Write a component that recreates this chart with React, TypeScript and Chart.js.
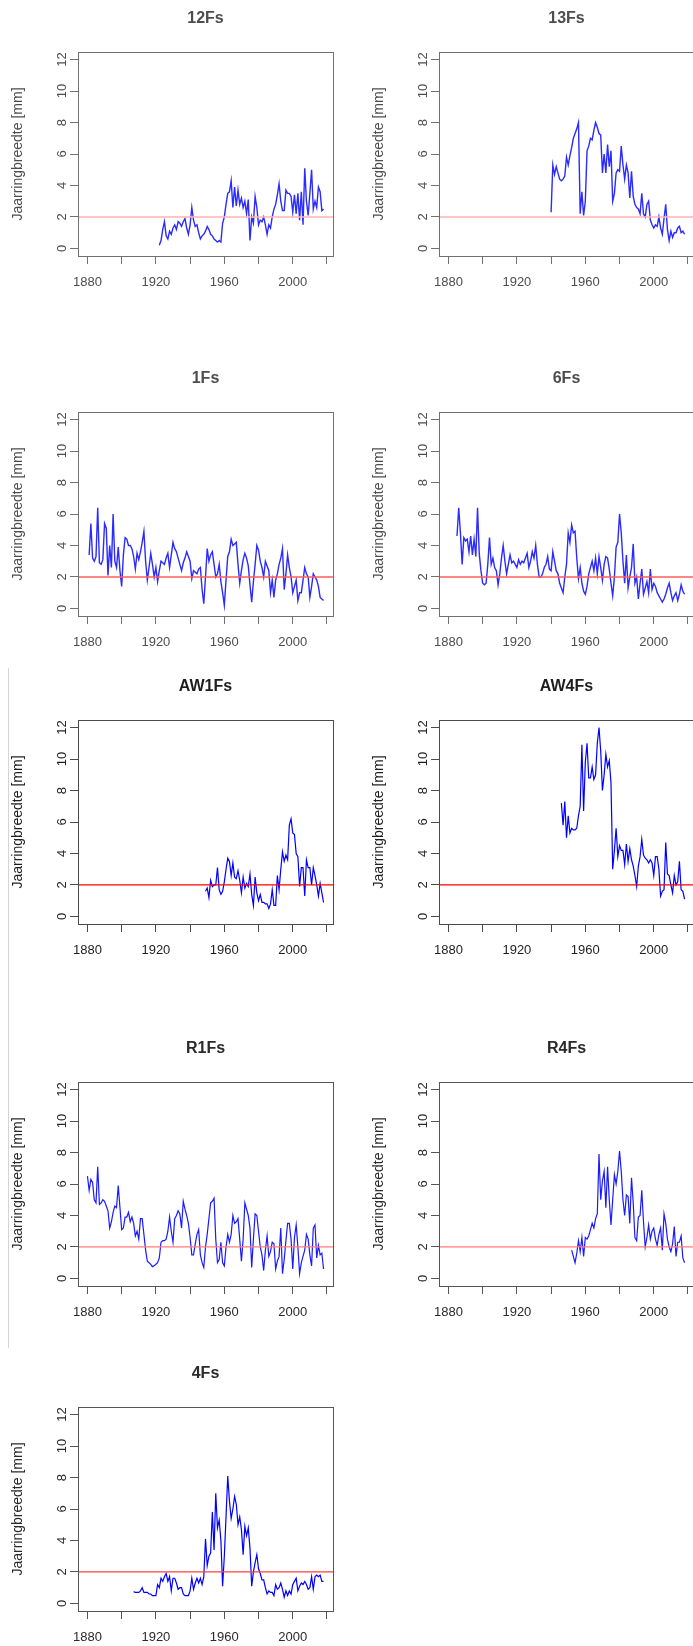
import { useEffect, useRef } from "react";
import { Chart, registerables } from "chart.js";

Chart.register(...registerables);

// ---- shared axis setup ----
const FONT = '"Liberation Sans", Arial, Helvetica, sans-serif';
const xTickYears = [1880, 1900, 1920, 1940, 1960, 1980, 2000, 2020];
const xLabelYears = [1880, 1920, 1960, 2000];
const yTickValues = [0, 2, 4, 6, 8, 10, 12];
const X_MIN = 1874.48;
const X_MAX = 2023.52;
const Y_MIN = -0.48;
const Y_MAX = 12.48;
const THRESHOLD_MM = 2;
const Y_TITLE = "Jaarringbreedte [mm]";

// ---- ring widths per tree (mm), one value per year from the start year ----
const start12Fs = 1922;
const rings12Fs = [
  0.2, 0.5, 1.2, 1.7, 0.8, 0.6, 1.1, 0.9, 1.3, 1.5, 1.2, 1.7, 1.6, 1.4, 1.7, 1.9, 1.3, 0.9, 1.5, 2.6,
  1.8, 1.4, 1.5, 1.0, 0.6, 0.8, 0.9, 1.1, 1.4, 1.2, 0.9, 0.8, 0.6, 0.5, 0.4, 0.5, 0.4, 1.6, 2.0, 2.8,
  3.5, 3.6, 4.3, 2.6, 3.9, 2.7, 3.7, 2.8, 3.2, 2.6, 3.0, 2.2, 3.1, 0.5, 2.0, 1.6, 3.3, 2.6, 1.5, 1.8,
  1.7, 2.0, 1.5, 0.9, 1.5, 1.3, 2.0, 2.5, 2.8, 3.4, 4.1, 3.0, 2.4, 2.4, 3.7, 3.5, 3.5, 3.3, 2.3, 3.4,
  2.2, 3.5, 1.8, 3.6, 1.5, 5.1, 3.0, 2.1, 3.5, 5.0, 2.5, 3.0, 2.6, 3.9, 3.6, 2.4, 2.5,
];

const start13Fs = 1940;
const rings13Fs = [
  2.3, 5.3, 4.7, 5.2, 4.8, 4.4, 4.3, 4.4, 4.6, 5.8, 5.3, 5.9, 6.4, 7.0, 7.3, 7.6, 8.0, 2.2, 3.6, 2.1,
  3.0, 6.2, 6.5, 7.0, 6.9, 7.5, 8.0, 7.7, 7.3, 7.2, 4.8, 6.0, 4.8, 6.6, 5.2, 6.2, 3.0, 3.5, 4.8, 5.0,
  4.9, 6.5, 5.3, 4.4, 5.3, 4.8, 3.2, 4.9, 3.3, 2.8, 2.6, 2.5, 2.2, 3.5, 2.2, 2.0, 2.8, 3.0, 1.8, 1.5,
  1.3, 1.5, 1.4, 2.0, 1.3, 0.9, 1.9, 2.8, 1.2, 0.5, 1.1, 0.7, 1.0, 1.0, 1.3, 1.4, 1.0, 1.1, 0.9,
];

const start1Fs = 1881;
const rings1Fs = [
  3.4, 5.4, 3.2, 3.0, 3.3, 6.4, 2.9, 2.8, 3.1, 5.4, 5.1, 2.1, 4.0, 2.6, 6.0, 3.0, 2.6, 3.9, 2.4, 1.4,
  3.4, 4.5, 4.4, 4.0, 4.0, 3.8, 3.3, 2.5, 3.5, 3.1, 3.6, 4.2, 4.9, 3.0, 1.8, 2.6, 3.5, 2.8, 2.0, 2.6,
  1.7, 2.4, 3.0, 2.9, 2.8, 3.2, 3.5, 2.6, 3.4, 4.2, 3.8, 3.6, 3.2, 2.8, 2.4, 2.9, 3.2, 3.6, 3.3, 3.0,
  1.9, 2.4, 2.3, 2.2, 2.5, 2.6, 1.2, 0.3, 2.0, 3.8, 3.0, 3.4, 3.6, 2.8, 2.0, 2.2, 2.8, 1.7, 1.0, 0.2,
  1.8, 3.3, 3.6, 4.4, 4.0, 4.1, 4.2, 2.8, 1.6, 2.4, 3.1, 3.5, 3.2, 2.7, 1.5, 0.4, 1.7, 2.8, 4.0, 3.7,
  3.0, 2.6, 2.0, 3.0, 2.7, 2.4, 1.0, 1.8, 0.7, 1.8, 2.2, 2.8, 3.2, 3.8, 1.2, 2.2, 3.4, 2.6, 2.0, 1.0,
  1.4, 1.8, 0.5, 1.0, 1.0, 1.8, 2.6, 2.2, 2.0, 0.7, 1.4, 2.2, 2.0, 1.8, 1.4, 0.7, 0.6, 0.5,
];

const start6Fs = 1885;
const rings6Fs = [
  4.6, 6.4, 4.8, 2.8, 4.5, 4.3, 4.4, 3.6, 4.6, 3.4, 4.4, 3.3, 6.4, 3.5, 2.4, 1.6, 1.5, 1.6, 2.8, 4.5,
  2.8, 3.2, 2.6, 2.4, 1.5, 2.2, 3.2, 4.0, 3.0, 2.2, 2.8, 3.4, 2.9, 3.0, 2.8, 2.6, 3.1, 2.8, 3.0, 2.9,
  3.2, 3.5, 2.6, 3.0, 3.6, 3.2, 4.0, 2.8, 2.0, 2.0, 2.2, 2.6, 2.8, 3.3, 2.5, 2.4, 3.6, 3.0, 2.4, 2.2,
  1.6, 1.3, 1.0, 2.0, 2.8, 4.8, 4.2, 5.3, 4.8, 4.9, 3.2, 1.9, 2.6, 1.6, 1.1, 0.9, 1.4, 2.2, 2.6, 3.0,
  2.4, 3.2, 2.2, 3.3, 2.6, 1.8, 2.8, 3.3, 3.2, 2.5, 1.6, 0.8, 2.0, 3.9, 4.2, 6.0, 4.8, 3.0, 1.6, 3.4,
  1.3, 2.0, 2.6, 4.1, 1.6, 2.0, 0.6, 1.6, 2.5, 0.9, 1.3, 1.7, 1.0, 2.5, 1.2, 1.6, 1.4, 1.0, 0.8, 0.6,
  0.4, 0.6, 0.9, 1.3, 1.6, 1.0, 0.5, 0.8, 1.0, 0.5, 0.9, 1.5, 1.1, 0.9,
];

const startAW1Fs = 1949;
const ringsAW1Fs = [
  1.6, 1.8, 1.2, 2.3, 1.9, 2.0, 2.0, 3.1, 1.7, 1.4, 1.6, 2.2, 3.0, 3.7, 3.5, 2.6, 3.4, 2.5, 2.4, 2.9,
  2.3, 1.5, 2.5, 1.8, 2.1, 1.9, 2.7, 1.4, 0.7, 2.5, 1.5, 1.0, 1.4, 0.9, 0.9, 0.8, 0.8, 0.5, 0.8, 1.7,
  0.7, 0.7, 2.6, 1.7, 3.0, 4.1, 3.5, 3.9, 3.6, 5.8, 6.2, 5.3, 5.2, 4.0, 3.8, 1.9, 3.1, 3.1, 1.3, 3.6,
  3.1, 3.1, 2.0, 3.1, 2.6, 2.0, 1.3, 2.1, 1.5, 0.9,
];

const startAW4Fs = 1946;
const ringsAW4Fs = [
  7.2, 5.8, 7.3, 5.0, 6.4, 5.3, 5.6, 5.5, 5.5, 5.6, 6.4, 7.0, 10.9, 6.7, 9.8, 11.0, 8.8, 8.8, 9.5, 8.7,
  9.0, 11.0, 12.0, 10.5, 8.0, 9.0, 10.3, 9.5, 9.9, 8.5, 3.0, 4.2, 5.6, 3.8, 4.5, 4.2, 4.2, 3.3, 4.6, 3.5,
  4.3, 3.6, 3.2, 2.6, 1.9, 3.2, 3.8, 4.9, 3.9, 3.7, 3.6, 3.4, 3.6, 3.4, 2.6, 3.8, 3.8, 3.0, 1.3, 1.6,
  1.7, 4.7, 2.7, 2.6, 2.0, 1.5, 2.6, 2.0, 2.2, 3.5, 1.7, 1.6, 1.1,
];

const startR1Fs = 1880;
const ringsR1Fs = [
  6.5, 5.6, 6.3, 6.1, 5.0, 4.8, 7.1, 4.7, 4.8, 5.0, 4.9, 4.6, 4.3, 3.2, 3.6, 4.2, 4.6, 4.5, 5.9, 4.5,
  3.1, 3.2, 3.9, 3.9, 4.2, 3.6, 3.9, 3.5, 2.7, 3.0, 2.5, 3.8, 3.8, 2.8, 1.8, 1.1, 1.0, 0.9, 0.75, 0.8,
  0.9, 1.0, 1.3, 2.3, 2.4, 2.4, 2.5, 3.0, 3.9, 3.0, 2.3, 3.8, 4.0, 4.3, 4.1, 3.2, 4.9, 4.4, 4.0, 3.5,
  2.6, 1.5, 1.5, 2.2, 2.8, 3.1, 1.5, 1.0, 0.7, 2.0, 2.8, 3.8, 4.8, 4.9, 5.1, 2.5, 1.0, 1.2, 2.3, 1.0,
  0.8, 2.0, 2.8, 2.3, 2.8, 4.0, 3.5, 3.6, 3.8, 2.5, 1.1, 2.5, 4.8, 4.4, 4.0, 3.2, 0.7, 2.5, 4.1, 4.0,
  3.0, 2.0, 1.5, 0.5, 1.8, 2.7, 1.4, 1.7, 2.3, 2.2, 0.6, 1.1, 1.4, 3.2, 0.3, 1.2, 2.4, 3.5, 3.5, 2.5,
  0.6, 2.6, 3.4, 2.0, 0.3, 1.0, 1.4, 1.8, 2.8, 2.5, 1.5, 0.8, 3.2, 3.4, 1.3, 2.1, 1.5, 1.6, 0.6,
];

const startR4Fs = 1952;
const ringsR4Fs = [
  1.8, 1.4, 1.0, 1.6, 2.4, 1.7, 2.6, 1.4, 2.6, 2.5, 2.7, 3.1, 3.5, 3.2, 3.8, 4.1, 7.9, 5.0, 6.2, 6.8,
  4.5, 7.1, 5.0, 3.4, 5.0, 6.6, 6.0, 6.8, 8.1, 6.8, 5.0, 4.0, 5.3, 5.2, 3.5, 6.4, 4.8, 2.6, 2.4, 3.9,
  4.0, 5.6, 3.6, 2.0, 2.6, 3.4, 2.5, 3.0, 3.2, 2.5, 2.1, 2.8, 3.2, 1.8, 4.1, 3.5, 2.5, 2.0, 1.7, 2.2,
  3.3, 1.4, 2.3, 2.3, 2.7, 1.3, 1.0,
];

const start4Fs = 1907;
const rings4Fs = [
  0.75, 0.7, 0.7, 0.7, 0.8, 1.0, 0.7, 0.7, 0.7, 0.6, 0.6, 0.5, 0.5, 0.5, 1.2, 1.0, 1.6, 1.4, 1.7, 1.9,
  1.4, 1.7, 0.8, 1.6, 1.6, 1.3, 0.9, 1.0, 1.0, 0.6, 0.5, 0.5, 0.5, 0.8, 1.6, 0.9, 1.3, 1.6, 1.3, 1.6,
  1.2, 1.7, 4.1, 2.4, 3.0, 3.2, 5.8, 3.4, 7.0, 4.8, 5.3, 4.0, 1.1, 3.0, 5.5, 8.1, 6.5, 5.4, 6.0, 6.8,
  6.3, 5.0, 5.5, 4.7, 3.1, 4.9, 4.3, 4.8, 3.5, 1.1, 2.0, 2.6, 3.1, 2.2, 1.9, 1.5, 1.5, 1.0, 0.6, 0.8,
  0.7, 0.7, 0.5, 1.2, 0.9, 1.0, 1.3, 0.9, 0.4, 0.8, 0.5, 0.8, 0.6, 1.2, 1.4, 1.6, 0.8, 1.1, 1.3, 1.2,
  1.4, 1.2, 0.9, 1.0, 1.7, 0.9, 1.7, 1.8, 1.7, 1.8, 1.4, 1.4,
];

// ---- look of each block of panels ----
type Look = { ink: string; frame: string; line: string; lineWidth: number; rule: string; ruleWidth: number };
const softTop: Look = { ink: "#4d4d4d", frame: "#707070", line: "#2b2bff", lineWidth: 1.4, rule: "#ffb3b3", ruleWidth: 1.6 };
const softSecond: Look = { ink: "#4d4d4d", frame: "#707070", line: "#2b2bff", lineWidth: 1.4, rule: "#ff5c5c", ruleWidth: 1.6 };
const crispAW: Look = { ink: "#1e1e1e", frame: "#4a4a4a", line: "#0000ff", lineWidth: 1.2, rule: "#ff0000", ruleWidth: 1.2 };
const crispR: Look = { ink: "#2a2a2a", frame: "#555555", line: "#1a1aff", lineWidth: 1.2, rule: "#ff7a7a", ruleWidth: 1.3 };
const bottomLook: Look = { ink: "#2a2a2a", frame: "#555555", line: "#0000ff", lineWidth: 1.2, rule: "#ff4040", ruleWidth: 1.2 };

// plot-box geometry inside each canvas
const AXIS_W = 78;
const TITLE_H = 52;
const BOX_W = 255;
const BOX_H = 204;
const XAXIS_H = 48;
const PAD_R = 16;
const CANVAS_W = AXIS_W + BOX_W + PAD_R;
const CANVAS_H = TITLE_H + BOX_H + XAXIS_H;

type PanelSpec = { title: string; start: number; values: number[]; boxLeft: number; boxTop: number; look: Look };

const panels: PanelSpec[] = [
  { title: "12Fs", start: start12Fs, values: rings12Fs, boxLeft: 78, boxTop: 52, look: softTop },
  { title: "13Fs", start: start13Fs, values: rings13Fs, boxLeft: 439, boxTop: 52, look: softTop },
  { title: "1Fs", start: start1Fs, values: rings1Fs, boxLeft: 78, boxTop: 412, look: softSecond },
  { title: "6Fs", start: start6Fs, values: rings6Fs, boxLeft: 439, boxTop: 412, look: softSecond },
  { title: "AW1Fs", start: startAW1Fs, values: ringsAW1Fs, boxLeft: 78, boxTop: 720, look: crispAW },
  { title: "AW4Fs", start: startAW4Fs, values: ringsAW4Fs, boxLeft: 439, boxTop: 720, look: crispAW },
  { title: "R1Fs", start: startR1Fs, values: ringsR1Fs, boxLeft: 78, boxTop: 1082, look: crispR },
  { title: "R4Fs", start: startR4Fs, values: ringsR4Fs, boxLeft: 439, boxTop: 1082, look: crispR },
  { title: "4Fs", start: start4Fs, values: rings4Fs, boxLeft: 78, boxTop: 1407, look: bottomLook },
];

// closed frame around the plotting region
const framePlugin = {
  id: "frame",
  afterDraw(chart: any, _args: any, opts: any) {
    const { ctx, chartArea: a } = chart;
    ctx.save();
    ctx.strokeStyle = opts.color;
    ctx.lineWidth = 1;
    ctx.strokeRect(Math.round(a.left) + 0.5, Math.round(a.top) + 0.5, Math.round(a.right - a.left), Math.round(a.bottom - a.top));
    ctx.restore();
  },
};

// horizontal reference line at the threshold width
const thresholdPlugin = {
  id: "threshold",
  afterDatasetsDraw(chart: any, _args: any, opts: any) {
    const { ctx, chartArea: a, scales } = chart;
    const y = scales.y.getPixelForValue(opts.value);
    ctx.save();
    ctx.beginPath();
    ctx.rect(a.left, a.top, a.right - a.left, a.bottom - a.top);
    ctx.clip();
    ctx.strokeStyle = opts.color;
    ctx.lineWidth = opts.width;
    ctx.beginPath();
    ctx.moveTo(a.left, y);
    ctx.lineTo(a.right, y);
    ctx.stroke();
    ctx.restore();
  },
};

function Panel({ spec }: { spec: PanelSpec }) {
  const ref = useRef<HTMLCanvasElement>(null);

  useEffect(() => {
    const canvas = ref.current;
    if (!canvas) return;
    const look = spec.look;
    const points = spec.values.map((v, i) => ({ x: spec.start + i, y: v }));
    const tickFont = { family: FONT, size: 13 };

    const chart = new Chart(canvas, {
      type: "line",
      data: {
        datasets: [
          {
            data: points,
            borderColor: look.line,
            borderWidth: look.lineWidth,
            pointRadius: 0,
            tension: 0,
            fill: false,
          },
        ],
      },
      options: {
        animation: false,
        responsive: false,
        devicePixelRatio: 1,
        parsing: false,
        events: [],
        layout: { padding: { left: 0, top: 0, right: PAD_R, bottom: 0 } },
        plugins: {
          legend: { display: false },
          tooltip: { enabled: false },
          title: {
            display: true,
            text: spec.title,
            fullSize: false,
            color: look.ink,
            font: { family: FONT, size: 16, weight: "bold", lineHeight: 1.2 },
            padding: { top: 9.4, bottom: 23.4 },
          },
          frame: { color: look.frame },
          threshold: { value: THRESHOLD_MM, color: look.rule, width: look.ruleWidth },
        } as any,
        scales: {
          x: {
            type: "linear",
            min: X_MIN,
            max: X_MAX,
            bounds: "data",
            afterBuildTicks: (s: any) => {
              s.ticks = xTickYears.map((v) => ({ value: v }));
            },
            afterFit: (s: any) => {
              s.height = XAXIS_H;
            },
            grid: { drawOnChartArea: false, drawTicks: true, tickLength: 8, tickWidth: 1, color: look.frame },
            border: { display: true, color: look.frame, width: 1 },
            ticks: {
              autoSkip: false,
              minRotation: 0,
              maxRotation: 0,
              padding: 11,
              color: look.ink,
              font: tickFont,
              callback: (v: any) => (xLabelYears.includes(Number(v)) ? String(v) : ""),
            },
          },
          y: {
            type: "linear",
            min: Y_MIN,
            max: Y_MAX,
            bounds: "data",
            afterBuildTicks: (s: any) => {
              s.ticks = yTickValues.map((v) => ({ value: v }));
            },
            afterFit: (s: any) => {
              s.width = AXIS_W;
            },
            grid: { drawOnChartArea: false, drawTicks: true, tickLength: 8, tickWidth: 1, color: look.frame },
            border: { display: true, color: look.frame, width: 1 },
            ticks: {
              autoSkip: false,
              minRotation: 90,
              maxRotation: 90,
              crossAlign: "center",
              padding: 0,
              color: look.ink,
              font: tickFont,
              callback: (v: any) => String(v),
            },
            title: {
              display: true,
              text: Y_TITLE,
              color: look.ink,
              font: { family: FONT, size: 14, lineHeight: 1.2 },
              padding: { top: 9.6, bottom: 0 },
            },
          },
        },
      } as any,
      plugins: [framePlugin, thresholdPlugin],
    });

    return () => chart.destroy();
  }, [spec]);

  return (
    <canvas
      ref={ref}
      width={CANVAS_W}
      height={CANVAS_H}
      style={{
        position: "absolute",
        left: spec.boxLeft - AXIS_W,
        top: spec.boxTop - TITLE_H,
        width: CANVAS_W,
        height: CANVAS_H,
      }}
    />
  );
}

export default function App() {
  return (
    <div
      style={{
        position: "absolute",
        left: 0,
        top: 0,
        width: 693,
        height: 1646,
        overflow: "hidden",
        background: "#ffffff",
      }}
    >
      <div style={{ position: "absolute", left: 8, top: 668, width: 1, height: 680, background: "#d4d4d4" }} />
      {panels.map((p) => (
        <Panel key={p.title} spec={p} />
      ))}
    </div>
  );
}
